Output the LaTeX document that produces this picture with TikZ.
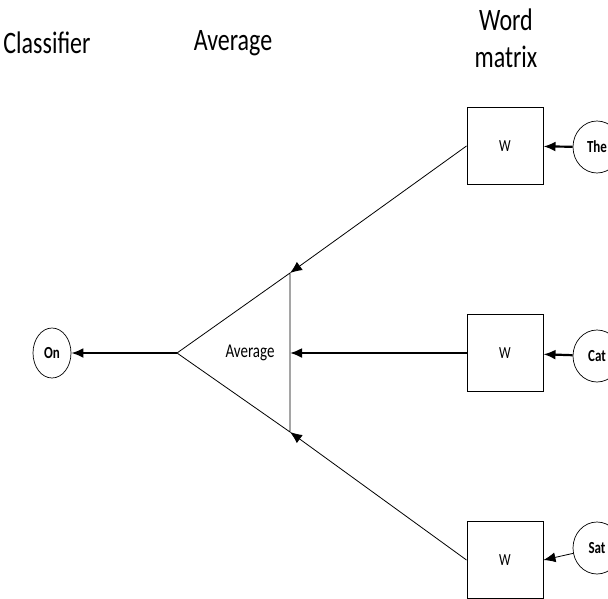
\documentclass[tikz,border=0pt]{standalone}
\usepackage{fontspec}
\setmainfont{Carlito}
\usepackage{tikz}
\usetikzlibrary{arrows.meta,positioning,shapes.geometric}
\newcommand{\tallt}[1]{\scalebox{1}[1.3]{#1}}

\begin{document}
\begin{tikzpicture}[
		x=1pt,y=-1pt,
		font=\fontsize{24}{37}\selectfont,
		matrixbox/.style={draw,line width=1pt,minimum width=76pt,minimum height=77pt,inner sep=0pt,font=\fontsize{13}{15}\selectfont},
		wordnode/.style={draw,ellipse,line width=0.7pt,minimum width=48pt,minimum height=52pt,inner sep=0pt,font=\bfseries\fontsize{13}{15}\selectfont},
		feed/.style={-{Latex[length=12pt,width=10pt]},line width=0.8pt},
		strong/.style={-{Latex[length=12pt,width=10pt]},line width=2.2pt}]
		\useasboundingbox (0,0) rectangle (608,598);
		\clip (0,0) rectangle (608,598);
		
		% Column titles
		\node (classtitle) at (47,43) {\tallt{Classifier}};
		\node (avgtitle) at (233,43) {\tallt{Average}};
		\node (wordtitle) [align=center] at (506,38) {\tallt{Word}\\\tallt{matrix}};
		
		% Word matrices and inputs
		\node (w1) [matrixbox] at (505,146) {\tallt{W}};
		\node (w2) [matrixbox] at (505,353) {\tallt{W}};
		\node (w3) [matrixbox] at (505,560) {\tallt{W}};
		\node (the) [wordnode] at (597,147) {\tallt{The}};
		\node (cat) [wordnode] at (597,356) {\tallt{Cat}};
		\node (sat) [wordnode] at (597,548) {\tallt{Sat}};
		\node (on) [wordnode,minimum width=38pt,minimum height=50pt] at (52,353) {\tallt{On}};
		
		% Average triangle
		\draw
		(290,273) coordinate (tritop)
		(290,432) coordinate (tribot)
		(290,353) coordinate (trimid)
		(177,353) coordinate (apex);
		\draw[line width=0.8pt] (apex) -- (tritop) -- (tribot) -- cycle;
		\node (avg) at (250,353) {\fontsize{15}{17}\selectfont\tallt{Average}};
		
		\draw[strong] (the) -- (w1);
		\draw[strong] (cat) -- (w2);
		\draw[feed] (sat) -- (w3.east);
		\draw[feed] (w1.west) -- (tritop);
		\draw[strong] (w2.west) -- (trimid);
		\draw[feed] (w3.west) -- (tribot);
		\draw[strong] (apex) -- (on);
		
\end{tikzpicture}
\end{document}
